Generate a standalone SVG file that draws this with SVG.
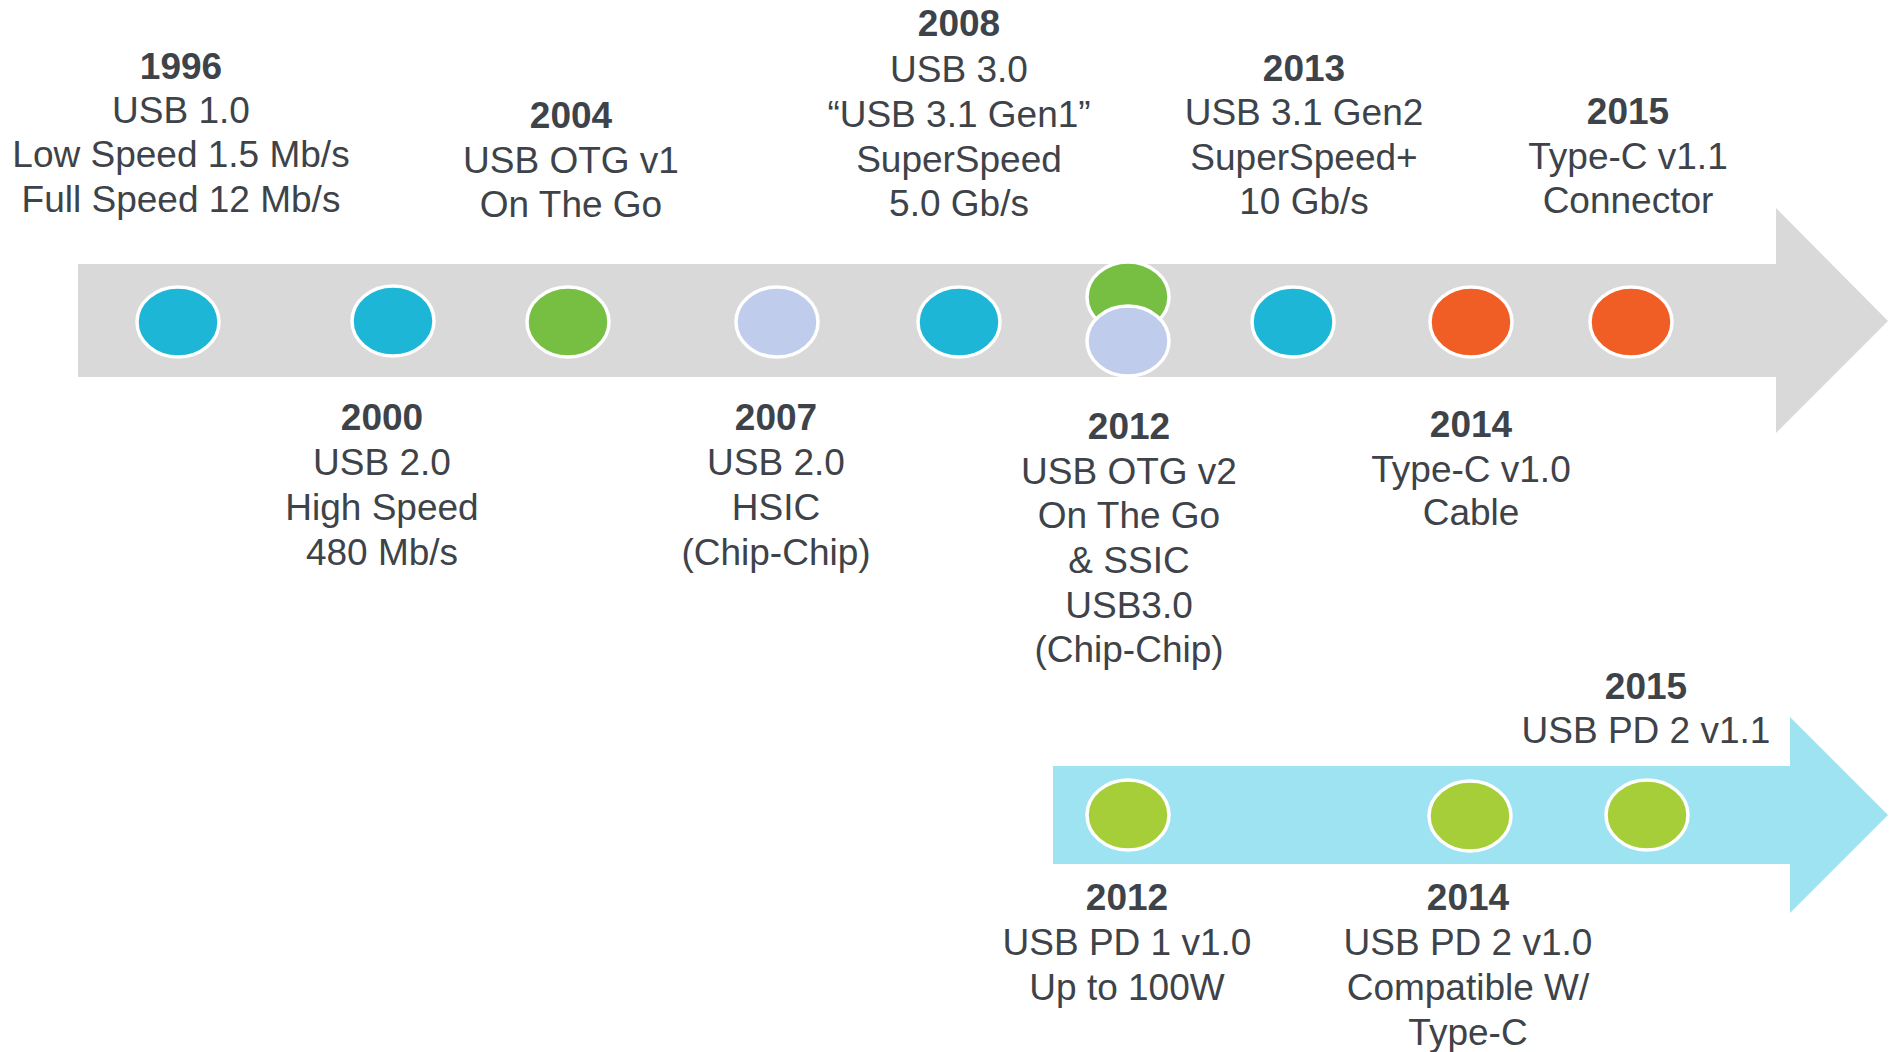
<svg xmlns="http://www.w3.org/2000/svg" width="1891" height="1052" viewBox="0 0 1891 1052">
<style>
text{font-family:"Liberation Sans",Arial,sans-serif;font-size:37px;fill:#3E4349;text-anchor:middle}
.y{font-weight:bold}
.dot{stroke:#FFFFFF;stroke-width:3.5}
.cy{fill:#1DB6D7}.gr{fill:#76BF43}.lv{fill:#BFCCEB}.or{fill:#F05D25}.yg{fill:#A6CE39}
</style>
<rect width="1891" height="1052" fill="#FFFFFF"/>
<g id="bars">
<polygon id="usb-bar" points="78,264 1776,264 1776,208 1888,321 1776,433 1776,377 78,377" fill="#D9D9D9"/>
<polygon id="pd-bar" points="1053,766 1790,766 1790,717 1888,815 1790,913 1790,864 1053,864" fill="#9EE3F2"/>
</g>
<g id="connectors"></g>
<g id="n1996">
<ellipse class="dot cy" cx="178" cy="322" rx="41" ry="35"/>
<text class="y" x="181" y="79">1996</text>
<text x="181" y="123">USB 1.0</text>
<text x="181" y="167">Low Speed 1.5 Mb/s</text>
<text x="181" y="212">Full Speed 12 Mb/s</text>
</g>
<g id="n2000">
<ellipse class="dot cy" cx="393" cy="321" rx="41" ry="35"/>
<text class="y" x="382" y="430">2000</text>
<text x="382" y="475">USB 2.0</text>
<text x="382" y="520">High Speed</text>
<text x="382" y="565">480 Mb/s</text>
</g>
<g id="n2004">
<ellipse class="dot gr" cx="568" cy="322" rx="41" ry="35"/>
<text class="y" x="571" y="128">2004</text>
<text x="571" y="173">USB OTG v1</text>
<text x="571" y="217">On The Go</text>
</g>
<g id="n2007">
<ellipse class="dot lv" cx="777" cy="322" rx="41" ry="35"/>
<text class="y" x="776" y="430">2007</text>
<text x="776" y="475">USB 2.0</text>
<text x="776" y="520">HSIC</text>
<text x="776" y="565">(Chip-Chip)</text>
</g>
<g id="n2008">
<ellipse class="dot cy" cx="959" cy="322" rx="41" ry="35"/>
<text class="y" x="959" y="36">2008</text>
<text x="959" y="82">USB 3.0</text>
<text x="959" y="127">“USB 3.1 Gen1”</text>
<text x="959" y="172">SuperSpeed</text>
<text x="959" y="216">5.0 Gb/s</text>
</g>
<g id="n2012">
<ellipse class="dot gr" cx="1128" cy="297" rx="41" ry="35"/>
<ellipse class="dot lv" cx="1128" cy="341" rx="41" ry="35"/>
<text class="y" x="1129" y="439">2012</text>
<text x="1129" y="484">USB OTG v2</text>
<text x="1129" y="528">On The Go</text>
<text x="1129" y="573">&amp; SSIC</text>
<text x="1129" y="618">USB3.0</text>
<text x="1129" y="662">(Chip-Chip)</text>
</g>
<g id="n2013">
<ellipse class="dot cy" cx="1293" cy="322" rx="41" ry="35"/>
<text class="y" x="1304" y="81">2013</text>
<text x="1304" y="125">USB 3.1 Gen2</text>
<text x="1304" y="170">SuperSpeed+</text>
<text x="1304" y="214">10 Gb/s</text>
</g>
<g id="n2014">
<ellipse class="dot or" cx="1471" cy="322" rx="41" ry="35"/>
<text class="y" x="1471" y="437">2014</text>
<text x="1471" y="482">Type-C v1.0</text>
<text x="1471" y="525">Cable</text>
</g>
<g id="n2015">
<ellipse class="dot or" cx="1631" cy="322" rx="41" ry="35"/>
<text class="y" x="1628" y="124">2015</text>
<text x="1628" y="169">Type-C v1.1</text>
<text x="1628" y="213">Connector</text>
</g>
<g id="pd2012">
<ellipse class="dot yg" cx="1128" cy="815" rx="41" ry="35"/>
<text class="y" x="1127" y="910">2012</text>
<text x="1127" y="955">USB PD 1 v1.0</text>
<text x="1127" y="1000">Up to 100W</text>
</g>
<g id="pd2014">
<ellipse class="dot yg" cx="1470" cy="816" rx="41" ry="35"/>
<text class="y" x="1468" y="910">2014</text>
<text x="1468" y="955">USB PD 2 v1.0</text>
<text x="1468" y="1000">Compatible W/</text>
<text x="1468" y="1045">Type-C</text>
</g>
<g id="pd2015">
<ellipse class="dot yg" cx="1647" cy="815" rx="41" ry="35"/>
<text class="y" x="1646" y="699">2015</text>
<text x="1646" y="743">USB PD 2 v1.1</text>
</g>
</svg>
